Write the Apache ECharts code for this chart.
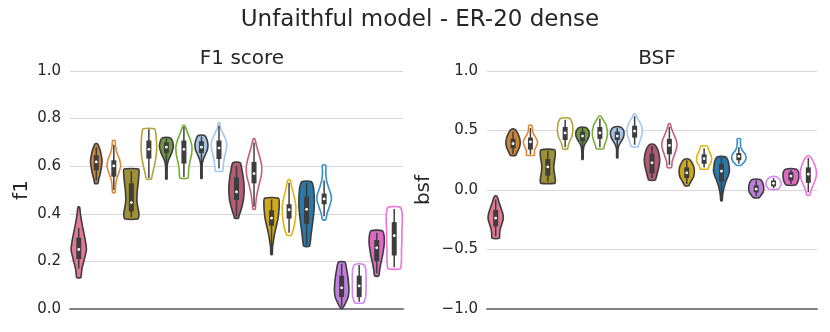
<!DOCTYPE html>
<html>
<head>
<meta charset="utf-8">
<script src="https://cdn.jsdelivr.net/npm/echarts@6/dist/echarts.min.js"></script>
<style>
  html, body { margin: 0; background: #fff; }
  #chart { width: 830px; height: 332px; }
</style>
</head>
<body>
<div id="chart"></div>
<script>
// one entry per violin, left to right
const slots = ['m1', 'm2a', 'm2b', 'm3a', 'm3b', 'm4a', 'm4b', 'm5a', 'm5b', 'm6a', 'm6b',
	'm7a', 'm7b', 'm8a', 'm8b', 'm9a', 'm9b', 'm10a', 'm10b'];
const slotColors = ['#e27b91', '#c9843d', '#dc8b3d', '#9f9236', '#b1a23a', '#6f9d3d', '#78ad35',
	'#a7c3e2', '#a1c9f4', '#b45a72', '#c65f7f', '#cfa91c', '#e2b412', '#2c78a8', '#3690c8',
	'#c07fdf', '#d385f0', '#dc69c4', '#ee72da'];
const slotFilled = [true, true, false, true, false, true, false, true, false, true, false,
	true, false, true, false, true, false, true, false];

// density outline: [value, relative half width], top to bottom
const f1Shapes = [
	[[0.428, 0.1], [0.40, 0.2], [0.35, 0.45], [0.30, 0.75], [0.25, 0.95], [0.21, 0.7], [0.17, 0.4], [0.14, 0.3], [0.132, 0.25]],
	[[0.694, 0.15], [0.67, 0.45], [0.64, 0.65], [0.62, 0.72], [0.60, 0.65], [0.57, 0.5], [0.545, 0.3], [0.528, 0.2]],
	[[0.708, 0.15], [0.69, 0.2], [0.66, 0.35], [0.63, 0.7], [0.60, 0.85], [0.57, 0.6], [0.54, 0.3], [0.51, 0.2], [0.489, 0.15]],
	[[0.588, 0.9], [0.57, 0.95], [0.53, 0.85], [0.49, 0.72], [0.45, 0.7], [0.42, 0.85], [0.40, 0.95], [0.385, 0.9], [0.378, 0.8]],
	[[0.757, 0.7], [0.74, 0.85], [0.70, 0.95], [0.66, 0.95], [0.62, 0.8], [0.59, 0.6], [0.56, 0.4], [0.546, 0.3]],
	[[0.719, 0.5], [0.70, 0.8], [0.68, 0.85], [0.66, 0.7], [0.64, 0.45], [0.62, 0.2], [0.60, 0.1], [0.57, 0.08], [0.546, 0.08]],
	[[0.771, 0.1], [0.74, 0.45], [0.71, 0.8], [0.68, 1.0], [0.65, 0.95], [0.62, 0.75], [0.59, 0.6], [0.56, 0.55], [0.55, 0.5]],
	[[0.729, 0.4], [0.71, 0.7], [0.69, 0.8], [0.67, 0.75], [0.65, 0.5], [0.63, 0.25], [0.61, 0.1], [0.58, 0.08], [0.549, 0.07]],
	[[0.782, 0.1], [0.76, 0.2], [0.73, 0.6], [0.70, 0.95], [0.67, 0.9], [0.64, 0.7], [0.61, 0.55], [0.59, 0.5], [0.579, 0.45]],
	[[0.615, 0.45], [0.59, 0.65], [0.55, 0.85], [0.51, 0.95], [0.47, 0.9], [0.44, 0.75], [0.41, 0.5], [0.39, 0.3], [0.382, 0.25]],
	[[0.715, 0.1], [0.68, 0.35], [0.64, 0.7], [0.60, 0.95], [0.56, 0.9], [0.52, 0.6], [0.48, 0.35], [0.44, 0.2], [0.42, 0.15]],
	[[0.465, 0.85], [0.44, 0.95], [0.41, 0.9], [0.38, 0.8], [0.35, 0.6], [0.32, 0.4], [0.29, 0.25], [0.26, 0.12], [0.229, 0.08]],
	[[0.542, 0.15], [0.51, 0.35], [0.47, 0.65], [0.43, 0.85], [0.39, 0.8], [0.36, 0.7], [0.33, 0.5], [0.315, 0.35], [0.31, 0.3]],
	[[0.535, 0.6], [0.51, 0.85], [0.47, 0.95], [0.43, 0.95], [0.39, 0.85], [0.35, 0.7], [0.31, 0.55], [0.28, 0.45], [0.264, 0.35]],
	[[0.604, 0.2], [0.57, 0.2], [0.54, 0.3], [0.51, 0.55], [0.48, 0.85], [0.46, 0.9], [0.43, 0.65], [0.40, 0.35], [0.375, 0.2]],
	[[0.197, 0.4], [0.17, 0.6], [0.14, 0.75], [0.11, 0.85], [0.08, 0.9], [0.05, 0.8], [0.03, 0.55], [0.01, 0.25], [0.003, 0.1]],
	[[0.188, 0.5], [0.17, 0.8], [0.14, 0.85], [0.11, 0.85], [0.08, 0.85], [0.05, 0.8], [0.03, 0.6], [0.025, 0.5]],
	[[0.329, 0.7], [0.31, 0.9], [0.28, 0.95], [0.25, 0.85], [0.22, 0.7], [0.19, 0.5], [0.16, 0.35], [0.139, 0.25]],
	[[0.428, 0.7], [0.41, 0.95], [0.37, 1.0], [0.33, 0.95], [0.29, 0.95], [0.25, 0.9], [0.21, 0.9], [0.18, 0.85], [0.169, 0.75]]
];
// inner box: [whisker low, q1, median, q3, whisker high]
const f1Boxes = [
	[0.17, 0.21, 0.25, 0.30, 0.34], [0.54, 0.583, 0.618, 0.646, 0.68], [0.50, 0.556, 0.601, 0.625, 0.69],
	[0.385, 0.41, 0.447, 0.528, 0.58], [0.55, 0.632, 0.671, 0.708, 0.755], [0.55, 0.655, 0.68, 0.70, 0.715],
	[0.555, 0.611, 0.671, 0.708, 0.765], [0.55, 0.655, 0.68, 0.705, 0.725], [0.59, 0.63, 0.676, 0.708, 0.77],
	[0.39, 0.458, 0.492, 0.553, 0.60], [0.43, 0.528, 0.569, 0.618, 0.70], [0.24, 0.35, 0.382, 0.415, 0.46],
	[0.32, 0.38, 0.417, 0.44, 0.53], [0.27, 0.358, 0.419, 0.472, 0.53], [0.39, 0.44, 0.4625, 0.485, 0.54],
	[0.01, 0.05, 0.089, 0.14, 0.19], [0.03, 0.05, 0.097, 0.14, 0.185], [0.15, 0.20, 0.257, 0.29, 0.32],
	[0.175, 0.225, 0.308, 0.365, 0.42]
];

const bsfShapes = [
	[[-0.052, 0.15], [-0.10, 0.4], [-0.15, 0.65], [-0.20, 0.9], [-0.24, 0.95], [-0.28, 0.8], [-0.32, 0.6], [-0.36, 0.5], [-0.405, 0.45]],
	[[0.51, 0.2], [0.48, 0.55], [0.44, 0.8], [0.40, 0.9], [0.36, 0.8], [0.32, 0.55], [0.30, 0.4], [0.29, 0.3]],
	[[0.542, 0.2], [0.50, 0.25], [0.47, 0.4], [0.43, 0.75], [0.40, 0.9], [0.37, 0.75], [0.33, 0.5], [0.30, 0.5], [0.292, 0.5]],
	[[0.339, 0.85], [0.31, 0.95], [0.27, 0.9], [0.23, 0.8], [0.19, 0.75], [0.15, 0.8], [0.11, 0.9], [0.07, 0.95], [0.056, 0.85]],
	[[0.603, 0.55], [0.57, 0.85], [0.53, 0.95], [0.49, 0.95], [0.45, 0.85], [0.42, 0.65], [0.39, 0.45], [0.36, 0.35], [0.345, 0.3]],
	[[0.525, 0.4], [0.50, 0.75], [0.47, 0.85], [0.44, 0.75], [0.41, 0.5], [0.38, 0.25], [0.35, 0.12], [0.30, 0.08], [0.257, 0.08]],
	[[0.619, 0.15], [0.59, 0.4], [0.55, 0.75], [0.51, 0.9], [0.47, 0.95], [0.43, 0.85], [0.39, 0.65], [0.36, 0.5], [0.347, 0.45]],
	[[0.528, 0.45], [0.50, 0.8], [0.47, 0.85], [0.44, 0.75], [0.41, 0.5], [0.38, 0.25], [0.35, 0.1], [0.31, 0.08], [0.27, 0.07]],
	[[0.639, 0.1], [0.61, 0.3], [0.57, 0.65], [0.53, 0.9], [0.49, 0.95], [0.45, 0.85], [0.41, 0.65], [0.38, 0.5], [0.364, 0.45]],
	[[0.383, 0.3], [0.35, 0.65], [0.31, 0.85], [0.27, 0.95], [0.23, 0.95], [0.19, 0.85], [0.15, 0.7], [0.11, 0.55], [0.083, 0.4]],
	[[0.556, 0.1], [0.51, 0.3], [0.46, 0.6], [0.42, 0.85], [0.38, 0.95], [0.34, 0.85], [0.29, 0.6], [0.24, 0.35], [0.189, 0.25]],
	[[0.258, 0.3], [0.23, 0.65], [0.19, 0.9], [0.15, 0.95], [0.11, 0.85], [0.08, 0.6], [0.05, 0.35], [0.036, 0.25]],
	[[0.369, 0.4], [0.34, 0.55], [0.31, 0.75], [0.27, 0.95], [0.23, 0.85], [0.20, 0.6], [0.18, 0.5], [0.175, 0.45]],
	[[0.278, 0.55], [0.24, 0.85], [0.20, 0.95], [0.16, 1.0], [0.12, 0.85], [0.08, 0.6], [0.04, 0.4], [0.00, 0.25], [-0.04, 0.15], [-0.09, 0.08]],
	[[0.43, 0.2], [0.40, 0.2], [0.36, 0.25], [0.33, 0.45], [0.30, 0.8], [0.27, 0.9], [0.24, 0.75], [0.22, 0.45], [0.208, 0.3]],
	[[0.089, 0.5], [0.07, 0.75], [0.04, 0.9], [0.01, 0.95], [-0.02, 0.85], [-0.045, 0.6], [-0.064, 0.35]],
	[[0.111, 0.35], [0.09, 0.75], [0.06, 0.95], [0.035, 0.9], [0.015, 0.7], [0.006, 0.5]],
	[[0.175, 0.7], [0.15, 0.95], [0.12, 1.0], [0.09, 0.95], [0.06, 0.8], [0.042, 0.6]],
	[[0.283, 0.2], [0.25, 0.55], [0.20, 0.85], [0.16, 1.0], [0.12, 1.0], [0.08, 0.85], [0.04, 0.6], [0.00, 0.35], [-0.042, 0.2]]
];
const bsfBoxes = [
	[-0.39, -0.306, -0.236, -0.167, -0.08], [0.30, 0.35, 0.389, 0.43, 0.49], [0.30, 0.34, 0.405, 0.44, 0.52],
	[0.07, 0.12, 0.194, 0.26, 0.33], [0.36, 0.42, 0.48, 0.53, 0.59], [0.27, 0.41, 0.453, 0.49, 0.52],
	[0.36, 0.43, 0.48, 0.53, 0.60], [0.28, 0.42, 0.453, 0.49, 0.52], [0.38, 0.44, 0.494, 0.54, 0.62],
	[0.10, 0.139, 0.228, 0.306, 0.37], [0.21, 0.30, 0.375, 0.43, 0.53], [0.05, 0.10, 0.144, 0.19, 0.25],
	[0.19, 0.22, 0.264, 0.30, 0.35], [-0.07, 0.07, 0.158, 0.22, 0.27], [0.22, 0.25, 0.283, 0.31, 0.36],
	[-0.05, -0.02, 0.008, 0.04, 0.08], [0.015, 0.03, 0.056, 0.08, 0.10], [0.05, 0.08, 0.117, 0.15, 0.17],
	[-0.02, 0.06, 0.133, 0.19, 0.27]
];

const INK = '#3d3d3d';

const violinRenderer = (shapes, boxes) => (params, api) => {
	const i = api.value(0),
		half = api.size([1, 0])[0] * 0.46,
		cx = api.coord([i, 0])[0],
		y = v => api.coord([i, v])[1],
		right = shapes[i].map(([v, w]) => [cx + w * half, y(v)]),
		left = right.slice().reverse().map(([x, yy]) => [2 * cx - x, yy]),
		[lo, q1, med, q3, hi] = boxes[i],
		filled = slotFilled[i];

	return {
		type: 'group',
		children: [
			{
				type: 'polygon',
				shape: { points: right.concat(left), smooth: 0.25 },
				style: {
					fill: filled ? slotColors[i] : '#fff',
					stroke: filled ? INK : slotColors[i],
					lineWidth: 1.6
				}
			},
			{
				type: 'line',
				shape: { x1: cx, y1: y(lo), x2: cx, y2: y(hi) },
				style: { stroke: INK, lineWidth: 1.5 }
			},
			{
				type: 'rect',
				shape: { x: cx - 2.5, y: y(q3), width: 5, height: y(q1) - y(q3) },
				style: { fill: INK }
			},
			{
				type: 'circle',
				shape: { cx, cy: y(med), r: 1.4 },
				style: { fill: '#fff' }
			}
		]
	};
};

const tickText = { fontFamily: 'DejaVu Sans', fontSize: 15, color: '#262626' },
	fmt = v => v.toFixed(1).replace('-', '\u2212');

const chart = echarts.init(document.getElementById('chart'), null, { renderer: 'canvas' });

chart.setOption({
	animation: false,
	textStyle: { fontFamily: 'DejaVu Sans' },
	title: [
		{ text: 'Unfaithful model - ER-20 dense', left: 415, top: 4, textAlign: 'center',
			textStyle: { fontFamily: 'DejaVu Sans', fontSize: 23, fontWeight: 'normal', color: '#262626' } },
		{ text: 'F1 score', left: 237, top: 44, textAlign: 'center',
			textStyle: { fontFamily: 'DejaVu Sans', fontSize: 20, fontWeight: 'normal', color: '#262626' } },
		{ text: 'BSF', left: 652, top: 44, textAlign: 'center',
			textStyle: { fontFamily: 'DejaVu Sans', fontSize: 20, fontWeight: 'normal', color: '#262626' } }
	],
	grid: [
		{ left: 70, right: 427, top: 71, bottom: 23 },
		{ left: 487, right: 13, top: 71, bottom: 23 }
	],
	xAxis: [0, 1].map(g => ({
		type: 'category',
		gridIndex: g,
		data: slots,
		axisTick: { show: false },
		axisLabel: { show: false },
		axisLine: { onZero: false, lineStyle: { color: '#808080', width: 2 } }
	})),
	yAxis: [
		{ gridIndex: 0, min: 0, max: 1, interval: 0.2, name: 'f1' },
		{ gridIndex: 1, min: -1, max: 1, interval: 0.5, name: 'bsf' }
	].map((a, k) => ({
		type: 'value',
		...a,
		nameLocation: 'middle',
		nameGap: k ? 53 : 38,
		nameTextStyle: { fontFamily: 'DejaVu Sans', fontSize: 20, color: '#262626' },
		axisLine: { show: false },
		axisTick: { show: false },
		axisLabel: { ...tickText, margin: 9, formatter: fmt },
		splitLine: { lineStyle: { color: '#d6d6d6', width: 1 } }
	})),
	series: [
		{
			type: 'custom',
			xAxisIndex: 0,
			yAxisIndex: 0,
			clip: false,
			renderItem: violinRenderer(f1Shapes, f1Boxes),
			encode: { x: 0 },
			data: slots.map((s, i) => [i])
		},
		{
			type: 'custom',
			xAxisIndex: 1,
			yAxisIndex: 1,
			clip: false,
			renderItem: violinRenderer(bsfShapes, bsfBoxes),
			encode: { x: 0 },
			data: slots.map((s, i) => [i])
		}
	]
});
</script>
</body>
</html>
